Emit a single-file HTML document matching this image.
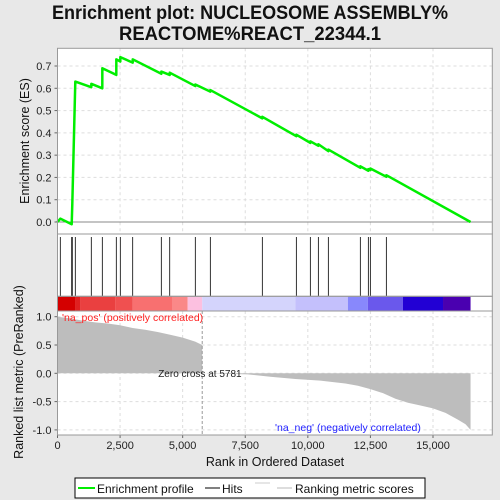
<!DOCTYPE html>
<html><head><meta charset="utf-8"><style>
html,body{margin:0;padding:0;background:#e8e8e8;}
svg{display:block;font-family:"Liberation Sans",sans-serif;}
</style></head><body>
<svg id="chart" width="500" height="500" viewBox="0 0 500 500" xmlns="http://www.w3.org/2000/svg">
<rect x="0" y="0" width="500" height="500" fill="#e8e8e8"/>
<text x="250" y="19" text-anchor="middle" font-size="19" font-weight="bold" fill="#111" textLength="396" lengthAdjust="spacingAndGlyphs">Enrichment plot: NUCLEOSOME ASSEMBLY%</text>
<text x="250" y="40" text-anchor="middle" font-size="19" font-weight="bold" fill="#111" textLength="262" lengthAdjust="spacingAndGlyphs">REACTOME%REACT_22344.1</text>
<g id="g-top"></g>
<g id="g-hits"></g>
<g id="g-bar"></g>
<g id="g-bot"></g>
<g>
<rect x="75" y="478" width="350" height="20" fill="#fff" stroke="#000" stroke-width="1"/>
<line x1="78" y1="488" x2="95" y2="488" stroke="#00ee00" stroke-width="2"/>
<text x="97" y="493" font-size="12" fill="#111">Enrichment profile</text>
<line x1="205" y1="488" x2="220" y2="488" stroke="#000" stroke-width="1"/>
<text x="222" y="493" font-size="12" fill="#111">Hits</text>
<line x1="255" y1="483" x2="270" y2="483" stroke="#ccc" stroke-width="1"/>
<line x1="277" y1="488" x2="292" y2="488" stroke="#bbb" stroke-width="1"/>
<text x="295" y="493" font-size="12" fill="#111">Ranking metric scores</text>
</g>
</svg>
<script>
const hitRanks=[112,567,591,711,1350,1790,2349,2509,3004,4147,4483,5505,6105,8182,9541,10100,10420,10819,12097,12417,12497,13136];
const esRanks=[0,112,567,591,711,1350,1351,1790,1791,2349,2350,2509,2510,3004,3005,4147,4148,4483,4484,5505,5506,6105,6106,8182,8183,9541,9542,10100,10101,10420,10421,10819,10820,12097,12098,12417,12418,12497,12498,13136,13137,16500];
const esValues=[0,0.015,-0.01,0.08,0.63,0.605,0.62,0.6,0.69,0.66,0.73,0.72,0.74,0.715,0.73,0.665,0.675,0.66,0.67,0.61,0.617,0.585,0.592,0.465,0.472,0.385,0.392,0.355,0.362,0.342,0.349,0.318,0.325,0.243,0.25,0.23,0.237,0.233,0.24,0.203,0.21,0.0];
const metricRanks=[0,500,1000,1500,2000,2500,3000,3500,4000,4500,5000,5500,5781,5782,7600,8500,9500,10500,11500,12000,12500,13000,13500,14000,14500,15000,15500,16000,16300,16500];
const metricValues=[1.0,0.97,0.93,0.9,0.88,0.85,0.8,0.77,0.73,0.68,0.63,0.56,0.5,0,-0.02,-0.06,-0.1,-0.13,-0.18,-0.22,-0.28,-0.35,-0.45,-0.52,-0.57,-0.62,-0.7,-0.82,-0.9,-1.0];
const esTicks=[0.0,0.1,0.2,0.3,0.4,0.5,0.6,0.7];
const esTickLabels=["0.0","0.1","0.2","0.3","0.4","0.5","0.6","0.7"];
const metricTicks=[1.0,0.5,0.0,-0.5,-1.0];
const metricTickLabels=["1.0","0.5","0.0","-0.5","-1.0"];
const xTicks=[0,2500,5000,7500,10000,12500,15000];
const xTickLabels=["0","2,500","5,000","7,500","10,000","12,500","15,000"];
const barColors=["#d40000","#e02020","#ea4040","#f05050","#f87070","#fa8888","#fcc0e0","#d4d4fc","#c4c0fc","#8888fc","#6a58ec","#2200d4","#4a00b0"];
const barStops=[0,700,900,2300,3000,4600,5200,5781,9500,11600,12400,13800,15400,16500];
const zeroCross=5781;

const NS="http://www.w3.org/2000/svg";
const PL=57.5,PR=492.3;
const X=r=>PL+r*(433-57.5)/15000;
const Yes=v=>222-v*(222-66)/0.7;
const Ym=v=>373.3-v*56.6;
function mk(p,tag,at){const e=document.createElementNS(NS,tag);for(const k in at)e.setAttribute(k,at[k]);p.appendChild(e);return e;}
const gTop=document.getElementById('g-top'),gHits=document.getElementById('g-hits'),gBar=document.getElementById('g-bar'),gBot=document.getElementById('g-bot');
mk(gTop,'rect',{x:PL,y:48.3,width:PR-PL,height:234-48.3,fill:'#fff'});
mk(gHits,'rect',{x:PL,y:234,width:PR-PL,height:62.3,fill:'#fff'});
mk(gBot,'rect',{x:PL,y:311,width:PR-PL,height:124,fill:'#fff'});
xTicks.forEach(t=>{
  if(t>0){mk(gTop,'line',{x1:X(t),y1:48.3,x2:X(t),y2:234,stroke:'#ddd','stroke-dasharray':'3,3'});
  mk(gBot,'line',{x1:X(t),y1:311,x2:X(t),y2:435,stroke:'#ddd','stroke-dasharray':'3,3'});}
});
esTicks.forEach((t,i)=>{
  if(t>0)mk(gTop,'line',{x1:PL,y1:Yes(t),x2:PR,y2:Yes(t),stroke:'#ddd','stroke-dasharray':'3,3'});
  mk(gTop,'line',{x1:PL-3,y1:Yes(t),x2:PL,y2:Yes(t),stroke:'#666'});
  const tx=mk(gTop,'text',{x:PL-6,y:Yes(t)+4,'text-anchor':'end','font-size':11,fill:'#222'});tx.textContent=esTickLabels[i];
});
mk(gTop,'line',{x1:PL,y1:Yes(0),x2:PR,y2:Yes(0),stroke:'#888'});
metricTicks.forEach((t,i)=>{
  mk(gBot,'line',{x1:PL,y1:Ym(t),x2:PR,y2:Ym(t),stroke:'#ddd','stroke-dasharray':'3,3'});
  mk(gBot,'line',{x1:PL-3,y1:Ym(t),x2:PL,y2:Ym(t),stroke:'#666'});
  const tx=mk(gBot,'text',{x:PL-6,y:Ym(t)+4,'text-anchor':'end','font-size':11,fill:'#222'});tx.textContent=metricTickLabels[i];
});
let d='M'+X(0)+','+Ym(0);
for(let i=0;i<metricRanks.length;i++){d+=' L'+X(metricRanks[i])+','+Ym(metricValues[i]);}
d+=' L'+X(metricRanks[metricRanks.length-1])+','+Ym(0)+' Z';
const area=mk(gBot,'path',{d:d,fill:'#bdbdbd'});


mk(gBot,'line',{x1:X(zeroCross),y1:311,x2:X(zeroCross),y2:435,stroke:'#999','stroke-dasharray':'3,2'});
const zc=mk(gBot,'text',{x:X(zeroCross)-44,y:377,'font-size':10,fill:'#222'});zc.textContent='Zero cross at '+zeroCross;


const pl=mk(gBot,'text',{x:62,y:321,'font-size':10.5,fill:'#ff2020'});pl.textContent="'na_pos' (positively correlated)";


const nl=mk(gBot,'text',{x:275,y:431,'font-size':10.5,fill:'#2020ff'});nl.textContent="'na_neg' (negatively correlated)";


mk(gBar,'rect',{x:PL,y:296.3,width:PR-PL,height:14.7,fill:'#fff'});
barColors.forEach((c,i)=>{
  const r=mk(gBar,'rect',{x:X(barStops[i]),y:296.3,width:X(barStops[i+1])-X(barStops[i]),height:14.7,fill:c});
  
  
});
hitRanks.forEach(h=>{
  const l=mk(gHits,'line',{x1:X(h),y1:237,x2:X(h),y2:296,stroke:'#000','stroke-width':0.8});
  
  
});
let pts=esRanks.map((r,i)=>X(r)+','+Yes(esValues[i])).join(' ');
const es=mk(gTop,'polyline',{points:pts,fill:'none',stroke:'#00ee00','stroke-width':2.5,'stroke-linejoin':'round'});


const chartEl=document.getElementById('chart');
[[48.3,234],[234,296.3],[296.3,311],[311,435]].forEach(([a,b])=>mk(chartEl,'rect',{x:PL,y:a,width:PR-PL,height:b-a,fill:'none',stroke:'#999'}));
xTicks.forEach((t,i)=>{
  mk(gBot,'line',{x1:X(t),y1:435,x2:X(t),y2:438,stroke:'#666'});
  const tx=mk(gBot,'text',{x:X(t),y:449,'text-anchor':'middle','font-size':11,fill:'#222'});tx.textContent=xTickLabels[i];
});
const xl=mk(gBot,'text',{x:275,y:466,'text-anchor':'middle','font-size':12.5,fill:'#111'});xl.textContent='Rank in Ordered Dataset';


const yl=mk(gTop,'text',{x:0,y:0,'text-anchor':'middle','font-size':12.5,fill:'#111',transform:'translate(29,141) rotate(-90)'});yl.textContent='Enrichment score (ES)';


const yl2=mk(gBot,'text',{x:0,y:0,'text-anchor':'middle','font-size':12.5,fill:'#111',transform:'translate(23,372) rotate(-90)'});yl2.textContent='Ranked list metric (PreRanked)';


</script>
</body></html>
